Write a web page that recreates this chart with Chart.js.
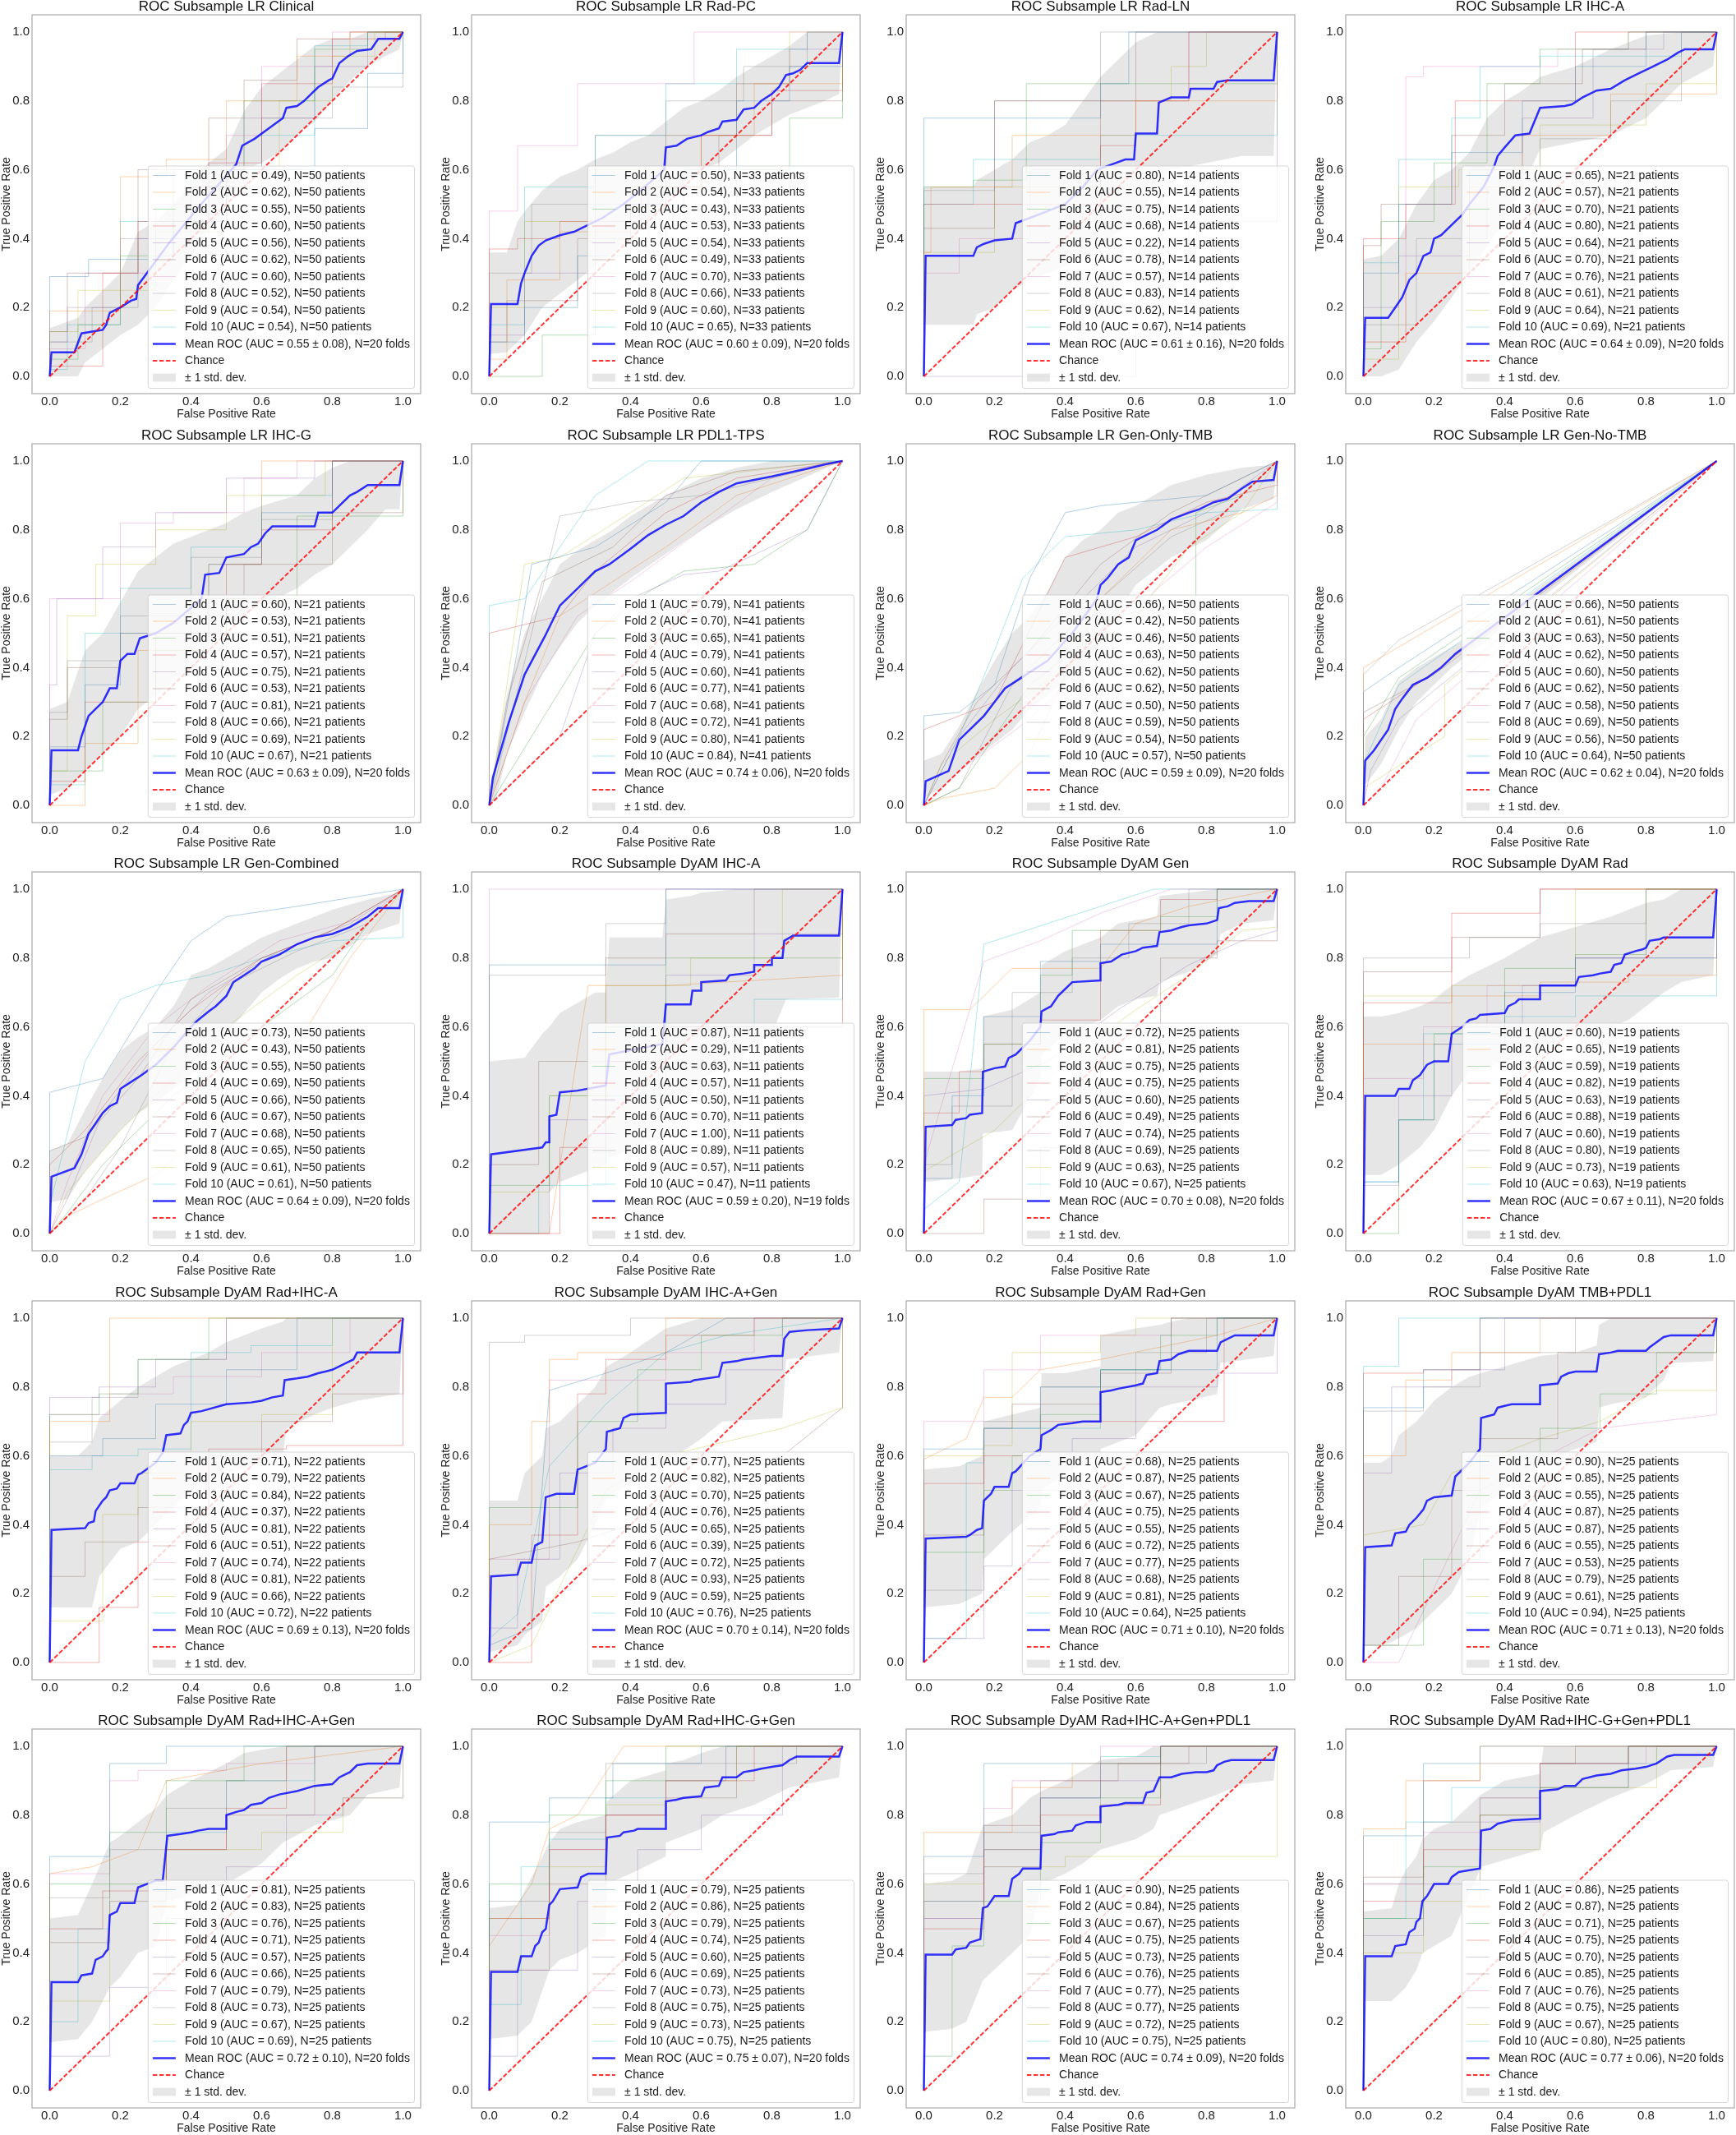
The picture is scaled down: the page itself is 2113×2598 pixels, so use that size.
<!DOCTYPE html>
<html>
<head>
<meta charset="utf-8">
<script src="https://cdn.jsdelivr.net/npm/chart.js@4.4.1/dist/chart.umd.min.js"></script>
<style>
  html, body { margin: 0; padding: 0; background: #fff; }
  body { width: 2113px; height: 2598px; position: relative; overflow: hidden; }
  canvas { position: absolute; }
</style>
</head>
<body>
<script>
// ---- data ----
const TITLES = [
  'ROC Subsample LR Clinical', 'ROC Subsample LR Rad-PC', 'ROC Subsample LR Rad-LN', 'ROC Subsample LR IHC-A',
  'ROC Subsample LR IHC-G', 'ROC Subsample LR PDL1-TPS', 'ROC Subsample LR Gen-Only-TMB', 'ROC Subsample LR Gen-No-TMB',
  'ROC Subsample LR Gen-Combined', 'ROC Subsample DyAM IHC-A', 'ROC Subsample DyAM Gen', 'ROC Subsample DyAM Rad',
  'ROC Subsample DyAM Rad+IHC-A', 'ROC Subsample DyAM IHC-A+Gen', 'ROC Subsample DyAM Rad+Gen', 'ROC Subsample DyAM TMB+PDL1',
  'ROC Subsample DyAM Rad+IHC-A+Gen', 'ROC Subsample DyAM Rad+IHC-G+Gen', 'ROC Subsample DyAM Rad+IHC-A+Gen+PDL1', 'ROC Subsample DyAM Rad+IHC-G+Gen+PDL1'
];
const N_PATIENTS = [50, 33, 14, 21, 21, 41, 50, 50, 50, 11, 25, 19, 22, 25, 25, 25, 25, 25, 25, 25];
const N_FOLDS = [20, 20, 20, 20, 20, 20, 20, 20, 20, 19, 20, 20, 20, 20, 20, 20, 20, 20, 20, 20];
const MEAN_AUC = [0.55, 0.60, 0.61, 0.64, 0.63, 0.74, 0.59, 0.62, 0.64, 0.59, 0.70, 0.67, 0.69, 0.70, 0.71, 0.71, 0.72, 0.75, 0.74, 0.77];
const MEAN_SD = [0.08, 0.09, 0.16, 0.09, 0.09, 0.06, 0.09, 0.04, 0.09, 0.20, 0.08, 0.11, 0.13, 0.14, 0.10, 0.13, 0.10, 0.07, 0.09, 0.06];
const FOLD_AUC = [
  [0.49, 0.62, 0.55, 0.60, 0.56, 0.62, 0.60, 0.52, 0.54, 0.54],
  [0.50, 0.54, 0.43, 0.53, 0.54, 0.49, 0.70, 0.66, 0.60, 0.65],
  [0.80, 0.55, 0.75, 0.68, 0.22, 0.78, 0.57, 0.83, 0.62, 0.67],
  [0.65, 0.57, 0.70, 0.80, 0.64, 0.70, 0.76, 0.61, 0.64, 0.69],
  [0.60, 0.53, 0.51, 0.57, 0.75, 0.53, 0.81, 0.66, 0.69, 0.67],
  [0.79, 0.70, 0.65, 0.79, 0.60, 0.77, 0.68, 0.72, 0.80, 0.84],
  [0.66, 0.42, 0.46, 0.63, 0.62, 0.62, 0.50, 0.59, 0.54, 0.57],
  [0.66, 0.61, 0.63, 0.62, 0.60, 0.62, 0.58, 0.69, 0.56, 0.64],
  [0.73, 0.43, 0.55, 0.69, 0.66, 0.67, 0.68, 0.65, 0.61, 0.61],
  [0.87, 0.29, 0.63, 0.57, 0.50, 0.70, 1.00, 0.89, 0.57, 0.47],
  [0.72, 0.81, 0.75, 0.75, 0.60, 0.49, 0.74, 0.69, 0.63, 0.67],
  [0.60, 0.65, 0.59, 0.82, 0.63, 0.88, 0.60, 0.80, 0.73, 0.63],
  [0.71, 0.79, 0.84, 0.37, 0.81, 0.51, 0.74, 0.81, 0.66, 0.72],
  [0.77, 0.82, 0.70, 0.76, 0.65, 0.39, 0.72, 0.93, 0.59, 0.76],
  [0.68, 0.87, 0.67, 0.75, 0.55, 0.72, 0.77, 0.68, 0.81, 0.64],
  [0.90, 0.85, 0.55, 0.87, 0.87, 0.55, 0.53, 0.79, 0.61, 0.94],
  [0.81, 0.83, 0.76, 0.71, 0.57, 0.66, 0.79, 0.73, 0.67, 0.69],
  [0.79, 0.86, 0.79, 0.74, 0.60, 0.69, 0.73, 0.75, 0.73, 0.75],
  [0.90, 0.84, 0.67, 0.75, 0.73, 0.76, 0.77, 0.77, 0.72, 0.75],
  [0.86, 0.87, 0.71, 0.75, 0.70, 0.85, 0.76, 0.75, 0.67, 0.80]
];

// mean ROC per panel: flat x,y pairs
const MEAN_ROC = [
  [0,0, 0.005,0.07, 0.07,0.07, 0.09,0.125, 0.12,0.13, 0.15,0.135, 0.16,0.15, 0.17,0.185, 0.2,0.2, 0.23,0.22, 0.245,0.225, 0.25,0.265, 0.34,0.39, 0.42,0.49, 0.528,0.616, 0.545,0.67, 0.58,0.69, 0.62,0.72, 0.64,0.735, 0.66,0.75, 0.67,0.78, 0.7,0.785, 0.72,0.8, 0.74,0.82, 0.76,0.84, 0.79,0.86, 0.8,0.865, 0.82,0.91, 0.845,0.93, 0.87,0.945, 0.91,0.95, 0.93,0.98, 0.99,0.98, 1,1],
  [0,0, 0.005,0.21, 0.08,0.21, 0.09,0.27, 0.1,0.3, 0.12,0.35, 0.14,0.38, 0.16,0.395, 0.2,0.41, 0.24,0.42, 0.26,0.43, 0.32,0.46, 0.38,0.5, 0.44,0.55, 0.495,0.6, 0.5,0.665, 0.53,0.67, 0.56,0.69, 0.6,0.7, 0.62,0.71, 0.65,0.72, 0.66,0.74, 0.7,0.745, 0.72,0.775, 0.75,0.78, 0.77,0.8, 0.8,0.82, 0.82,0.84, 0.84,0.875, 0.86,0.88, 0.88,0.89, 0.9,0.91, 0.99,0.91, 1,1],
  [0,0, 0.005,0.35, 0.14,0.35, 0.15,0.375, 0.17,0.385, 0.2,0.395, 0.25,0.4, 0.26,0.445, 0.3,0.46, 0.35,0.48, 0.4,0.5, 0.45,0.55, 0.49,0.6, 0.53,0.615, 0.57,0.63, 0.595,0.63, 0.6,0.705, 0.66,0.705, 0.665,0.795, 0.7,0.81, 0.75,0.81, 0.755,0.835, 0.82,0.835, 0.83,0.855, 0.86,0.86, 0.99,0.86, 1,1],
  [0,0, 0.005,0.17, 0.07,0.17, 0.09,0.2, 0.11,0.23, 0.13,0.28, 0.15,0.3, 0.17,0.35, 0.19,0.36, 0.2,0.4, 0.22,0.41, 0.25,0.44, 0.28,0.47, 0.3,0.5, 0.34,0.55, 0.37,0.61, 0.38,0.64, 0.4,0.665, 0.43,0.7, 0.47,0.705, 0.5,0.78, 0.57,0.785, 0.59,0.79, 0.62,0.81, 0.66,0.83, 0.7,0.835, 0.74,0.86, 0.78,0.88, 0.82,0.9, 0.86,0.92, 0.89,0.94, 0.91,0.95, 0.99,0.95, 1,1],
  [0,0, 0.005,0.16, 0.08,0.16, 0.09,0.2, 0.11,0.26, 0.13,0.28, 0.15,0.3, 0.17,0.34, 0.19,0.34, 0.2,0.42, 0.22,0.44, 0.24,0.44, 0.255,0.485, 0.3,0.5, 0.35,0.53, 0.43,0.6, 0.44,0.67, 0.48,0.675, 0.5,0.72, 0.55,0.73, 0.57,0.75, 0.59,0.76, 0.61,0.79, 0.63,0.81, 0.75,0.81, 0.76,0.85, 0.8,0.85, 0.82,0.87, 0.85,0.9, 0.87,0.91, 0.9,0.93, 0.99,0.93, 1,1],
  [0,0, 0.01,0.08, 0.055,0.24, 0.1,0.38, 0.157,0.49, 0.2,0.58, 0.26,0.64, 0.3,0.68, 0.34,0.7, 0.4,0.745, 0.45,0.785, 0.5,0.815, 0.55,0.84, 0.6,0.88, 0.65,0.91, 0.7,0.935, 0.8,0.955, 0.9,0.978, 0.95,0.99, 1,1],
  [0,0, 0.005,0.07, 0.07,0.1, 0.1,0.19, 0.13,0.22, 0.17,0.26, 0.2,0.3, 0.23,0.34, 0.26,0.36, 0.35,0.42, 0.42,0.5, 0.49,0.6, 0.5,0.64, 0.52,0.66, 0.55,0.7, 0.58,0.72, 0.6,0.77, 0.62,0.78, 0.66,0.8, 0.7,0.83, 0.75,0.85, 0.78,0.86, 0.82,0.88, 0.86,0.89, 0.9,0.92, 0.93,0.94, 0.99,0.945, 1,1],
  [0,0, 0.005,0.13, 0.03,0.16, 0.05,0.19, 0.07,0.22, 0.09,0.28, 0.11,0.31, 0.14,0.35, 0.18,0.37, 0.22,0.4, 0.26,0.44, 0.3,0.47, 1,1],
  [0,0, 0.005,0.165, 0.07,0.19, 0.09,0.23, 0.11,0.29, 0.13,0.32, 0.15,0.35, 0.17,0.37, 0.19,0.38, 0.2,0.42, 0.23,0.44, 0.26,0.46, 0.3,0.49, 0.35,0.54, 0.4,0.6, 0.42,0.62, 0.45,0.645, 0.47,0.66, 0.5,0.69, 0.52,0.73, 0.55,0.75, 0.58,0.77, 0.6,0.79, 0.65,0.81, 0.7,0.84, 0.75,0.86, 0.8,0.87, 0.85,0.89, 0.9,0.92, 0.93,0.945, 0.99,0.945, 1,1],
  [0,0, 0.005,0.23, 0.15,0.25, 0.16,0.265, 0.17,0.265, 0.17,0.34, 0.19,0.345, 0.2,0.41, 0.25,0.415, 0.33,0.43, 0.34,0.52, 0.49,0.55, 0.5,0.665, 0.57,0.665, 0.575,0.705, 0.6,0.705, 0.6,0.73, 0.67,0.735, 0.68,0.75, 0.72,0.755, 0.75,0.76, 0.75,0.78, 0.8,0.78, 0.8,0.8, 0.83,0.8, 0.835,0.85, 0.86,0.865, 0.99,0.865, 1,1],
  [0,0, 0.005,0.31, 0.08,0.315, 0.09,0.33, 0.12,0.335, 0.13,0.345, 0.165,0.35, 0.167,0.47, 0.2,0.48, 0.23,0.485, 0.24,0.51, 0.26,0.52, 0.3,0.56, 0.33,0.6, 0.333,0.645, 0.36,0.66, 0.38,0.69, 0.4,0.71, 0.42,0.73, 0.5,0.735, 0.5,0.785, 0.53,0.79, 0.56,0.81, 0.6,0.82, 0.62,0.83, 0.66,0.835, 0.667,0.875, 0.7,0.88, 0.73,0.89, 0.75,0.895, 0.8,0.9, 0.83,0.91, 0.835,0.945, 0.86,0.95, 0.88,0.96, 0.92,0.965, 0.99,0.965, 1,1],
  [0,0, 0.005,0.4, 0.09,0.4, 0.1,0.42, 0.13,0.42, 0.14,0.445, 0.16,0.46, 0.18,0.49, 0.2,0.5, 0.24,0.5, 0.25,0.58, 0.28,0.6, 0.3,0.62, 0.32,0.625, 0.33,0.635, 0.4,0.64, 0.41,0.66, 0.43,0.67, 0.44,0.68, 0.5,0.68, 0.5,0.72, 0.6,0.72, 0.61,0.745, 0.65,0.75, 0.67,0.755, 0.7,0.76, 0.71,0.78, 0.73,0.785, 0.74,0.81, 0.77,0.82, 0.79,0.825, 0.8,0.83, 0.81,0.85, 0.84,0.855, 0.85,0.86, 0.99,0.86, 1,1],
  [0,0, 0.005,0.385, 0.1,0.39, 0.11,0.405, 0.125,0.41, 0.13,0.44, 0.15,0.47, 0.16,0.48, 0.17,0.5, 0.19,0.505, 0.2,0.52, 0.24,0.52, 0.25,0.545, 0.26,0.55, 0.3,0.58, 0.32,0.61, 0.33,0.66, 0.37,0.665, 0.38,0.69, 0.39,0.7, 0.4,0.725, 0.43,0.73, 0.5,0.75, 0.57,0.755, 0.6,0.76, 0.63,0.77, 0.66,0.775, 0.665,0.82, 0.7,0.825, 0.73,0.83, 0.76,0.84, 0.78,0.845, 0.8,0.85, 0.82,0.86, 0.84,0.87, 0.86,0.88, 0.87,0.9, 0.99,0.9, 1,1],
  [0,0, 0.005,0.25, 0.08,0.255, 0.09,0.29, 0.12,0.29, 0.13,0.34, 0.15,0.35, 0.16,0.48, 0.19,0.49, 0.24,0.49, 0.25,0.56, 0.3,0.58, 0.33,0.62, 0.333,0.67, 0.37,0.68, 0.38,0.71, 0.4,0.72, 0.5,0.725, 0.5,0.81, 0.57,0.815, 0.58,0.82, 0.65,0.83, 0.66,0.87, 0.7,0.875, 0.72,0.88, 0.8,0.89, 0.83,0.89, 0.835,0.94, 0.85,0.96, 0.9,0.965, 0.99,0.97, 1,1],
  [0,0, 0.005,0.36, 0.12,0.365, 0.13,0.37, 0.15,0.385, 0.165,0.39, 0.17,0.47, 0.19,0.49, 0.2,0.51, 0.24,0.51, 0.25,0.55, 0.26,0.555, 0.3,0.6, 0.33,0.62, 0.333,0.66, 0.36,0.675, 0.38,0.69, 0.42,0.695, 0.45,0.7, 0.5,0.7, 0.5,0.785, 0.53,0.79, 0.55,0.795, 0.6,0.805, 0.62,0.81, 0.63,0.835, 0.66,0.84, 0.667,0.875, 0.7,0.88, 0.72,0.895, 0.75,0.905, 0.83,0.905, 0.84,0.93, 0.86,0.94, 0.88,0.95, 0.99,0.95, 1,1],
  [0,0, 0.005,0.335, 0.08,0.34, 0.09,0.375, 0.12,0.38, 0.13,0.4, 0.15,0.42, 0.17,0.445, 0.18,0.47, 0.2,0.48, 0.25,0.485, 0.26,0.54, 0.3,0.58, 0.33,0.62, 0.333,0.71, 0.37,0.72, 0.38,0.74, 0.4,0.745, 0.42,0.75, 0.5,0.75, 0.5,0.805, 0.55,0.81, 0.56,0.83, 0.58,0.84, 0.6,0.845, 0.66,0.845, 0.667,0.895, 0.7,0.9, 0.72,0.905, 0.8,0.905, 0.81,0.915, 0.83,0.93, 0.85,0.945, 0.87,0.95, 0.99,0.95, 1,1],
  [0,0, 0.005,0.315, 0.08,0.315, 0.09,0.335, 0.12,0.34, 0.13,0.38, 0.15,0.39, 0.16,0.405, 0.165,0.41, 0.17,0.51, 0.19,0.52, 0.2,0.545, 0.24,0.545, 0.25,0.59, 0.3,0.61, 0.32,0.61, 0.333,0.74, 0.37,0.745, 0.4,0.75, 0.42,0.755, 0.45,0.76, 0.5,0.76, 0.5,0.8, 0.53,0.81, 0.55,0.815, 0.57,0.83, 0.6,0.835, 0.62,0.85, 0.65,0.86, 0.7,0.87, 0.75,0.885, 0.8,0.89, 0.82,0.91, 0.85,0.925, 0.87,0.945, 0.9,0.95, 0.99,0.95, 1,1],
  [0,0, 0.005,0.345, 0.08,0.345, 0.09,0.39, 0.12,0.39, 0.13,0.42, 0.14,0.43, 0.15,0.46, 0.16,0.47, 0.17,0.54, 0.18,0.55, 0.2,0.585, 0.25,0.59, 0.26,0.62, 0.28,0.63, 0.33,0.63, 0.333,0.735, 0.37,0.74, 0.38,0.75, 0.41,0.755, 0.42,0.76, 0.5,0.76, 0.5,0.84, 0.53,0.845, 0.55,0.85, 0.6,0.855, 0.61,0.88, 0.65,0.885, 0.66,0.91, 0.7,0.91, 0.72,0.925, 0.75,0.93, 0.77,0.935, 0.8,0.94, 0.83,0.945, 0.85,0.96, 0.87,0.97, 0.99,0.97, 1,1],
  [0,0, 0.005,0.395, 0.08,0.395, 0.09,0.41, 0.12,0.415, 0.13,0.43, 0.16,0.44, 0.167,0.53, 0.18,0.535, 0.2,0.565, 0.24,0.565, 0.25,0.615, 0.27,0.63, 0.28,0.645, 0.33,0.645, 0.333,0.74, 0.37,0.745, 0.38,0.75, 0.42,0.755, 0.43,0.77, 0.46,0.78, 0.5,0.78, 0.5,0.825, 0.55,0.83, 0.57,0.835, 0.62,0.835, 0.63,0.865, 0.65,0.87, 0.667,0.91, 0.7,0.91, 0.73,0.92, 0.77,0.925, 0.8,0.925, 0.82,0.93, 0.83,0.945, 0.85,0.955, 0.87,0.96, 0.99,0.96, 1,1],
  [0,0, 0.005,0.39, 0.08,0.39, 0.09,0.42, 0.12,0.425, 0.13,0.46, 0.145,0.47, 0.15,0.49, 0.16,0.5, 0.167,0.55, 0.18,0.565, 0.2,0.6, 0.24,0.6, 0.25,0.62, 0.27,0.635, 0.3,0.64, 0.33,0.645, 0.333,0.755, 0.36,0.76, 0.38,0.775, 0.4,0.78, 0.42,0.785, 0.5,0.79, 0.5,0.87, 0.55,0.875, 0.57,0.885, 0.6,0.885, 0.62,0.905, 0.66,0.915, 0.7,0.92, 0.73,0.93, 0.77,0.935, 0.8,0.94, 0.83,0.95, 0.86,0.97, 0.88,0.975, 0.99,0.975, 1,1]
];

// ±1 std band per panel: flat x, upper, lower triples
const STD_BAND = [
  [0,0.14,0, 0.08,0.17,0, 0.1,0.2,0.04, 0.15,0.25,0.08, 0.2,0.3,0.12, 0.25,0.42,0.15, 0.3,0.45,0.2, 0.35,0.5,0.28, 0.4,0.56,0.35, 0.45,0.62,0.42, 0.5,0.66,0.5, 0.55,0.77,0.6, 0.6,0.84,0.62, 0.65,0.88,0.65, 0.7,0.92,0.7, 0.75,0.96,0.74, 0.8,0.98,0.8, 0.85,0.98,0.86, 0.9,1,0.9, 0.95,1,0.93, 0.99,1,0.95, 1,1,1],
  [0,0.36,0.065, 0.05,0.36,0.07, 0.08,0.45,0.1, 0.1,0.48,0.12, 0.15,0.54,0.2, 0.2,0.58,0.24, 0.25,0.6,0.28, 0.3,0.63,0.32, 0.35,0.65,0.36, 0.4,0.68,0.4, 0.45,0.7,0.45, 0.5,0.74,0.5, 0.55,0.78,0.56, 0.6,0.8,0.6, 0.65,0.83,0.62, 0.7,0.87,0.66, 0.75,0.9,0.7, 0.8,0.93,0.73, 0.85,0.96,0.76, 0.9,1,0.78, 0.95,1,0.8, 0.99,1,0.82, 1,1,1],
  [0,0.55,0.15, 0.14,0.55,0.15, 0.15,0.57,0.18, 0.2,0.6,0.2, 0.25,0.63,0.25, 0.3,0.68,0.28, 0.35,0.7,0.3, 0.4,0.73,0.32, 0.45,0.8,0.35, 0.5,0.87,0.38, 0.55,0.92,0.42, 0.6,0.97,0.45, 0.66,1,0.55, 0.7,1,0.6, 0.8,1,0.62, 0.9,1,0.64, 0.99,1,0.64, 1,1,1],
  [0,0.34,0, 0.05,0.35,0, 0.1,0.4,0.02, 0.15,0.5,0.1, 0.2,0.57,0.16, 0.25,0.6,0.23, 0.3,0.65,0.3, 0.35,0.75,0.38, 0.4,0.8,0.45, 0.45,0.83,0.55, 0.5,0.87,0.66, 0.6,0.9,0.68, 0.7,0.95,0.7, 0.8,0.99,0.75, 0.9,1,0.85, 0.99,1,0.9, 1,1,1],
  [0,0.28,0.03, 0.05,0.3,0.05, 0.1,0.45,0.1, 0.15,0.5,0.15, 0.2,0.59,0.2, 0.25,0.68,0.28, 0.3,0.72,0.32, 0.35,0.76,0.36, 0.4,0.78,0.4, 0.45,0.8,0.47, 0.5,0.82,0.52, 0.55,0.85,0.55, 0.6,0.87,0.58, 0.7,0.9,0.63, 0.75,0.95,0.67, 0.8,0.98,0.7, 0.85,1,0.75, 0.9,1,0.8, 0.95,1,0.86, 0.99,1,0.86, 1,1,1],
  [0,0,0, 0.02,0.15,0.02, 0.05,0.32,0.15, 0.1,0.5,0.27, 0.15,0.6,0.38, 0.2,0.7,0.46, 0.25,0.74,0.53, 0.3,0.77,0.58, 0.35,0.8,0.62, 0.4,0.84,0.66, 0.5,0.9,0.73, 0.6,0.95,0.8, 0.7,0.98,0.86, 0.8,1,0.91, 0.9,1,0.955, 1,1,1],
  [0,0.13,0.02, 0.05,0.15,0.05, 0.1,0.23,0.1, 0.15,0.33,0.14, 0.2,0.42,0.18, 0.25,0.5,0.22, 0.3,0.55,0.28, 0.35,0.62,0.32, 0.4,0.72,0.36, 0.45,0.77,0.4, 0.5,0.8,0.47, 0.55,0.85,0.56, 0.6,0.87,0.64, 0.7,0.93,0.72, 0.8,0.96,0.77, 0.9,0.98,0.86, 0.99,0.99,0.89, 1,1,1],
  [0,0,0, 0.005,0.2,0.06, 0.05,0.25,0.12, 0.1,0.36,0.22, 0.15,0.4,0.3, 0.2,0.43,0.35, 0.25,0.46,0.4, 0.3,0.49,0.44, 1,1,1],
  [0,0.24,0.09, 0.05,0.26,0.1, 0.1,0.36,0.18, 0.15,0.45,0.24, 0.2,0.53,0.3, 0.25,0.57,0.35, 0.3,0.6,0.38, 0.35,0.66,0.42, 0.4,0.75,0.46, 0.45,0.77,0.52, 0.5,0.8,0.58, 0.55,0.83,0.64, 0.6,0.86,0.7, 0.65,0.88,0.74, 0.7,0.9,0.77, 0.75,0.92,0.79, 0.8,0.94,0.8, 0.9,0.97,0.87, 0.99,0.99,0.9, 1,1,1],
  [0,0.5,0, 0.1,0.51,0, 0.15,0.58,0, 0.17,0.6,0, 0.17,0.6,0.12, 0.2,0.64,0.15, 0.25,0.67,0.17, 0.3,0.7,0.19, 0.33,0.7,0.2, 0.34,0.86,0.22, 0.49,0.86,0.28, 0.5,0.97,0.36, 0.57,0.98,0.4, 0.6,0.99,0.45, 0.7,1,0.5, 0.75,1,0.55, 0.8,1,0.58, 0.84,1,0.68, 0.99,1,0.685, 1,1,1],
  [0,0.47,0.15, 0.1,0.47,0.16, 0.165,0.48,0.17, 0.167,0.63,0.29, 0.25,0.65,0.3, 0.33,0.7,0.45, 0.333,0.78,0.52, 0.4,0.82,0.58, 0.5,0.86,0.62, 0.55,0.9,0.66, 0.6,0.91,0.68, 0.66,0.92,0.69, 0.667,0.98,0.73, 0.75,0.99,0.76, 0.83,1,0.81, 0.84,1,0.87, 0.9,1,0.9, 0.99,1,0.91, 1,1,1],
  [0,0.63,0.17, 0.05,0.63,0.17, 0.1,0.64,0.2, 0.16,0.66,0.25, 0.2,0.68,0.3, 0.25,0.72,0.4, 0.3,0.75,0.47, 0.4,0.8,0.5, 0.5,0.86,0.54, 0.6,0.89,0.58, 0.7,0.92,0.6, 0.75,0.94,0.62, 0.8,0.96,0.66, 0.85,0.97,0.7, 0.9,1,0.73, 0.99,1,0.75, 1,1,1],
  [0,0.6,0.16, 0.08,0.6,0.16, 0.12,0.64,0.16, 0.14,0.71,0.25, 0.2,0.76,0.33, 0.25,0.8,0.35, 0.3,0.83,0.4, 0.35,0.86,0.45, 0.4,0.88,0.5, 0.45,0.9,0.53, 0.5,0.93,0.55, 0.6,0.97,0.58, 0.66,0.99,0.6, 0.67,1,0.68, 0.75,1,0.72, 0.8,1,0.74, 0.87,1,0.76, 0.99,1,0.78, 1,1,1],
  [0,0.47,0.03, 0.08,0.47,0.05, 0.1,0.55,0.08, 0.15,0.6,0.12, 0.16,0.68,0.22, 0.2,0.7,0.25, 0.25,0.75,0.3, 0.3,0.8,0.4, 0.333,0.86,0.48, 0.4,0.9,0.52, 0.5,0.97,0.58, 0.6,1,0.65, 0.66,1,0.7, 0.83,1,0.71, 0.84,1,0.88, 0.99,1,0.9, 1,1,1],
  [0,0.56,0.16, 0.1,0.57,0.17, 0.165,0.6,0.2, 0.17,0.7,0.3, 0.25,0.72,0.38, 0.33,0.74,0.45, 0.333,0.84,0.5, 0.4,0.84,0.55, 0.5,0.86,0.6, 0.5,0.95,0.62, 0.6,0.97,0.66, 0.667,0.98,0.74, 0.7,0.99,0.75, 0.75,1,0.76, 0.83,1,0.78, 0.84,1,0.87, 0.99,1,0.89, 1,1,1],
  [0,0.58,0.05, 0.05,0.58,0.05, 0.08,0.6,0.06, 0.1,0.66,0.07, 0.15,0.7,0.1, 0.2,0.76,0.15, 0.25,0.8,0.2, 0.3,0.83,0.3, 0.333,0.84,0.45, 0.4,0.86,0.5, 0.5,0.89,0.58, 0.6,0.9,0.62, 0.66,0.92,0.64, 0.667,0.98,0.74, 0.7,1,0.75, 0.8,1,0.77, 0.85,1,0.82, 0.87,1,0.87, 0.99,1,0.875, 1,1,1],
  [0,0.5,0.14, 0.08,0.51,0.15, 0.12,0.6,0.2, 0.17,0.72,0.3, 0.2,0.74,0.33, 0.25,0.78,0.4, 0.3,0.82,0.42, 0.333,0.86,0.55, 0.4,0.9,0.57, 0.5,0.95,0.6, 0.55,0.98,0.63, 0.6,0.99,0.66, 0.66,1,0.72, 0.75,1,0.77, 0.85,1,0.8, 0.9,1,0.86, 0.99,1,0.88, 1,1,1],
  [0,0.53,0.15, 0.08,0.54,0.16, 0.12,0.62,0.2, 0.17,0.72,0.35, 0.2,0.76,0.38, 0.25,0.78,0.4, 0.33,0.8,0.45, 0.333,0.84,0.6, 0.4,0.9,0.63, 0.5,0.93,0.68, 0.5,0.95,0.72, 0.55,0.96,0.74, 0.6,0.98,0.76, 0.66,1,0.8, 0.75,1,0.83, 0.85,1,0.88, 0.99,1,0.91, 1,1,1],
  [0,0.6,0.17, 0.08,0.61,0.18, 0.12,0.63,0.2, 0.167,0.77,0.32, 0.25,0.8,0.4, 0.3,0.85,0.45, 0.333,0.87,0.6, 0.4,0.9,0.63, 0.45,0.93,0.66, 0.5,0.96,0.7, 0.6,0.97,0.73, 0.65,1,0.76, 0.667,1,0.8, 0.75,1,0.83, 0.83,1,0.86, 0.9,1,0.89, 0.99,1,0.9, 1,1,1],
  [0,0.52,0.26, 0.08,0.53,0.26, 0.1,0.6,0.28, 0.12,0.64,0.3, 0.15,0.68,0.35, 0.167,0.73,0.4, 0.2,0.76,0.42, 0.25,0.78,0.45, 0.333,0.86,0.65, 0.4,0.9,0.67, 0.5,0.92,0.7, 0.51,1,0.75, 0.6,1,0.8, 0.7,1,0.85, 0.8,1,0.89, 0.87,1,0.93, 0.99,1,0.94, 1,1,1]
];

// fold curves: flat corner points after (0,0); 's' = staircase, 'd' = straight segments
const FOLD_SHAPE = [
  'ssssssssss', 'ssssssssss', 'ssssssssss', 'ssssssssss',
  'ssssssssss', 'dddddddddd', 'dddddddddd', 'dddddddddd',
  'dddddddddd', 'sdssssssss', 'sdssdsdsdd', 'ssssssssss',
  'ssssssssss', 'dssssdssdd', 'sdssssssss', 'ssssssdsds',
  'sdssssssss', 'sdssssssss', 'ssssssssss', 'ssssssssss'
];
const FOLD_CURVES = [
  [
    [0.11,0.29, 0.35,0.34, 0.5,0.45, 0.75,0.6, 0.9,0.72, 1,0.88, 1,1],
    [0.2,0.19, 0.33,0.58, 0.5,0.63, 0.7,0.8, 0.85,0.93, 1,1],
    [0.08,0.05, 0.2,0.15, 0.35,0.35, 0.55,0.6, 0.75,0.8, 0.9,0.95, 1,1],
    [0.15,0.03, 0.25,0.3, 0.45,0.45, 0.6,0.62, 0.8,0.85, 0.95,0.98, 1,1],
    [0.05,0.1, 0.2,0.2, 0.4,0.4, 0.55,0.55, 0.75,0.75, 0.9,0.9, 1,1],
    [0.05,0.13, 0.25,0.3, 0.45,0.6, 0.55,0.75, 0.7,0.86, 0.85,0.98, 1,1],
    [0.1,0.08, 0.3,0.3, 0.5,0.5, 0.6,0.7, 0.8,0.9, 0.95,1, 1,1],
    [0.12,0.1, 0.25,0.2, 0.45,0.4, 0.6,0.55, 0.8,0.75, 0.95,0.84, 1,0.84, 1,1],
    [0.08,0.13, 0.3,0.25, 0.5,0.42, 0.65,0.6, 0.8,0.8, 0.92,0.93, 1,1],
    [0.05,0.02, 0.2,0.15, 0.4,0.45, 0.6,0.6, 0.75,0.7, 0.9,0.96, 1,1]
  ],
  [
    [0.1,0.1, 0.25,0.2, 0.4,0.35, 0.55,0.5, 0.7,0.6, 0.85,0.8, 1,0.9, 1,1],
    [0.05,0.05, 0.2,0.28, 0.4,0.42, 0.6,0.55, 0.75,0.7, 0.9,0.85, 1,0.85, 1,1],
    [0.15,0, 0.3,0.12, 0.5,0.3, 0.7,0.45, 0.85,0.6, 1,0.75, 1,1],
    [0.08,0.37, 0.2,0.4, 0.43,0.45, 0.6,0.55, 0.8,0.7, 1,0.83, 1,1],
    [0.1,0.12, 0.3,0.3, 0.5,0.5, 0.7,0.7, 0.85,0.85, 1,0.95, 1,1],
    [0.05,0.1, 0.25,0.22, 0.45,0.4, 0.65,0.55, 0.8,0.7, 1,0.8, 1,1],
    [0.08,0.48, 0.25,0.67, 0.58,0.85, 1,1],
    [0.12,0.3, 0.3,0.5, 0.5,0.7, 0.72,0.8, 0.9,0.9, 1,1],
    [0.1,0.2, 0.3,0.45, 0.5,0.6, 0.7,0.7, 0.85,0.85, 1,1],
    [0.1,0.15, 0.3,0.55, 0.5,0.7, 0.7,0.85, 0.9,0.95, 1,1]
  ],
  [
    [0.5,0.75, 0.58,0.85, 1,1],
    [0.02,0.36, 0.25,0.55, 0.6,0.7, 1,0.8, 1,1],
    [0.14,0.55, 0.29,0.57, 0.5,0.85, 1,0.85, 1,1],
    [0.5,0.5, 0.6,0.67, 0.75,0.8, 1,1],
    [0.6,0, 0.75,0.3, 1,0.45, 1,1],
    [0.2,0.43, 0.25,0.8, 0.6,0.8, 1,1],
    [0.1,0.3, 0.3,0.4, 0.5,0.6, 0.75,0.8, 1,1],
    [0.2,0.54, 0.5,0.8, 0.66,1, 1,1],
    [0.2,0.36, 0.5,0.55, 0.7,0.8, 0.8,0.9, 1,1],
    [0.14,0.5, 0.5,0.63, 0.86,0.7, 1,0.7, 1,1]
  ],
  [
    [0.1,0.3, 0.25,0.5, 0.45,0.65, 0.6,0.8, 0.8,0.9, 1,1],
    [0.12,0.1, 0.3,0.3, 0.45,0.55, 0.7,0.7, 0.9,0.82, 1,0.82, 1,1],
    [0.05,0.08, 0.2,0.45, 0.35,0.62, 0.5,0.85, 0.75,0.95, 1,1],
    [0.12,0.4, 0.26,0.5, 0.37,0.8, 0.6,0.8, 0.75,1, 1,1],
    [0.1,0.2, 0.3,0.35, 0.45,0.6, 0.65,0.75, 0.85,0.95, 1,1],
    [0.05,0.38, 0.25,0.5, 0.4,0.7, 0.62,0.85, 0.8,0.95, 1,1],
    [0.12,0.1, 0.17,0.87, 0.55,0.9, 0.75,0.95, 1,1],
    [0.15,0.15, 0.35,0.4, 0.5,0.6, 0.7,0.69, 0.9,0.8, 1,1],
    [0.1,0.05, 0.27,0.55, 0.5,0.6, 0.8,0.73, 1,0.85, 1,1],
    [0.1,0.33, 0.25,0.63, 0.33,0.75, 0.5,0.9, 0.9,0.93, 1,1]
  ],
  [
    [0.1,0.17, 0.2,0.35, 0.45,0.5, 0.6,0.7, 0.8,0.85, 1,1],
    [0.1,0, 0.25,0.18, 0.45,0.45, 0.6,0.7, 0.6,1, 1,1],
    [0.15,0.1, 0.3,0.3, 0.5,0.45, 0.7,0.6, 0.9,0.84, 1,0.84, 1,1],
    [0.1,0.07, 0.3,0.3, 0.5,0.5, 0.6,0.7, 0.8,0.8, 1,1],
    [0.02,0.35, 0.15,0.6, 0.3,0.75, 0.5,0.85, 0.75,0.95, 1,1],
    [0.05,0.25, 0.2,0.4, 0.4,0.5, 0.55,0.6, 0.8,0.7, 1,0.85, 1,1],
    [0.2,0.6, 0.35,0.82, 0.55,0.85, 0.7,0.95, 1,1],
    [0.05,0.27, 0.2,0.42, 0.4,0.55, 0.6,0.72, 0.8,0.83, 1,1],
    [0.05,0.1, 0.13,0.55, 0.3,0.7, 0.5,0.8, 0.78,0.9, 1,1],
    [0.1,0.06, 0.2,0.5, 0.4,0.63, 0.6,0.75, 0.8,0.9, 1,1]
  ],
  [
    [0.08,0.45, 0.12,0.7, 0.3,0.75, 0.5,0.88, 0.6,1, 1,1],
    [0.1,0.3, 0.2,0.55, 0.35,0.65, 0.5,0.75, 0.7,0.9, 1,1],
    [0.15,0.25, 0.3,0.5, 0.45,0.62, 0.55,0.68, 0.75,0.7, 0.9,0.8, 1,1],
    [0,0.5, 0.2,0.55, 0.3,0.68, 0.5,0.85, 0.7,0.95, 1,1],
    [0.2,0.2, 0.3,0.5, 0.4,0.6, 0.55,0.67, 0.65,0.68, 0.9,0.8, 1,1],
    [0.05,0.3, 0.15,0.65, 0.35,0.75, 0.5,0.9, 0.7,0.97, 1,1],
    [0.1,0.3, 0.25,0.55, 0.4,0.65, 0.6,0.8, 0.8,0.95, 1,1],
    [0.12,0.5, 0.2,0.84, 0.4,0.88, 0.6,0.9, 1,1],
    [0.05,0.35, 0.1,0.7, 0.2,0.72, 0.4,0.85, 0.55,0.95, 1,1],
    [0,0.58, 0.1,0.6, 0.3,0.9, 0.45,1, 1,1]
  ],
  [
    [0,0.26, 0.1,0.27, 0.2,0.35, 0.3,0.66, 0.4,0.85, 0.5,0.87, 0.8,0.9, 1,1],
    [0.05,0.02, 0.2,0.05, 0.3,0.15, 0.5,0.6, 0.7,0.8, 0.9,0.85, 1,0.9, 1,1],
    [0.1,0.05, 0.3,0.35, 0.55,0.55, 0.77,0.6, 0.77,0.85, 0.9,0.9, 1,1],
    [0,0.22, 0.2,0.3, 0.4,0.72, 0.6,0.78, 0.8,0.88, 1,0.93, 1,1],
    [0.1,0.2, 0.25,0.4, 0.45,0.6, 0.6,0.75, 0.8,0.85, 1,1],
    [0.05,0.12, 0.15,0.3, 0.3,0.45, 0.5,0.7, 0.7,0.85, 0.9,0.95, 1,1],
    [0.1,0.1, 0.3,0.25, 0.5,0.45, 0.65,0.62, 0.8,0.75, 1,0.88, 1,1],
    [0.1,0.05, 0.25,0.35, 0.5,0.6, 0.7,0.78, 0.85,0.85, 1,1],
    [0.05,0.12, 0.2,0.25, 0.4,0.4, 0.6,0.55, 0.75,0.75, 0.9,0.85, 1,1],
    [0.1,0.2, 0.2,0.45, 0.28,0.66, 0.4,0.78, 0.6,0.8, 0.8,0.85, 1,0.86, 1,1]
  ],
  [
    [0,0.33, 0.1,0.4, 1,1],
    [0,0.4, 0.25,0.55, 1,1],
    [0,0.2, 0.1,0.37, 1,1],
    [0,0.25, 0.15,0.35, 1,1],
    [0.02,0.1, 0.1,0.25, 1,1],
    [0,0.27, 0.2,0.38, 1,1],
    [0.05,0.05, 0.15,0.25, 1,1],
    [0,0.38, 0.1,0.48, 1,1],
    [0,0.05, 0.23,0.2, 0.23,0.35, 1,1],
    [0,0.12, 0.1,0.35, 1,1]
  ],
  [
    [0,0.41, 0.15,0.45, 0.3,0.7, 0.4,0.85, 0.5,0.92, 0.7,0.95, 1,1],
    [0.05,0.05, 0.15,0.1, 0.3,0.17, 0.5,0.35, 0.7,0.55, 0.85,0.8, 1,1],
    [0.05,0.06, 0.15,0.2, 0.35,0.4, 0.6,0.6, 0.8,0.75, 0.9,0.9, 1,1],
    [0,0.2, 0.1,0.3, 0.25,0.5, 0.4,0.65, 0.6,0.8, 0.8,0.88, 1,1],
    [0.05,0.1, 0.15,0.35, 0.3,0.55, 0.45,0.7, 0.65,0.82, 0.85,0.9, 1,1],
    [0,0.24, 0.1,0.28, 0.25,0.45, 0.4,0.68, 0.6,0.8, 0.8,0.88, 1,1],
    [0.05,0.15, 0.15,0.4, 0.3,0.6, 0.45,0.72, 0.65,0.85, 0.9,0.92, 1,1],
    [0.1,0.1, 0.2,0.25, 0.35,0.55, 0.5,0.72, 0.7,0.82, 0.9,0.9, 1,1],
    [0.05,0.12, 0.2,0.3, 0.35,0.45, 0.5,0.6, 0.7,0.75, 0.85,0.85, 1,1],
    [0,0.08, 0.1,0.5, 0.2,0.68, 0.3,0.72, 0.45,0.75, 0.6,0.8, 0.8,0.85, 1,0.86, 1,1]
  ],
  [
    [0.5,0.78, 1,1],
    [0.17,0, 0.28,0.72, 0.5,0.72, 1,0.75, 1,1],
    [0.17,0.14, 0.33,0.4, 0.5,0.6, 0.75,0.8, 1,0.8, 1,1],
    [0.2,0, 0.33,0.25, 0.5,0.5, 0.86,0.6, 1,0.6, 1,1],
    [0.17,0, 0.33,0.33, 0.5,0.5, 0.75,0.75, 1,0.87, 1,1],
    [0.14,0.2, 0.33,0.5, 0.5,0.8, 0.75,0.87, 1,1],
    [1,1],
    [0.33,0.75, 0.5,0.9, 1,1],
    [0.17,0.12, 0.33,0.4, 0.57,0.72, 0.83,0.8, 1,1],
    [0.14,0, 0.33,0.14, 0.5,0.4, 0.75,0.6, 1,0.68, 1,1]
  ],
  [
    [0.08,0.16, 0.17,0.4, 0.33,0.63, 0.5,0.79, 0.67,0.84, 0.83,0.84, 1,1],
    [0,0.65, 0.13,0.65, 0.25,0.77, 0.5,0.77, 0.6,0.9, 0.75,0.95, 1,1],
    [0.17,0.45, 0.33,0.55, 0.42,0.75, 0.67,0.88, 0.83,0.92, 1,1],
    [0.1,0.35, 0.17,0.47, 0.33,0.55, 0.5,0.62, 0.67,0.88, 0.83,0.97, 1,1],
    [0,0.4, 0.17,0.42, 0.35,0.5, 0.55,0.65, 0.75,0.78, 0.9,0.85, 1,0.88, 1,1],
    [0.17,0, 0.33,0.1, 0.5,0.25, 0.67,0.48, 0.83,0.8, 1,0.85, 1,1],
    [0,0.2, 0.17,0.79, 0.33,0.85, 0.5,0.93, 0.7,1, 1,1],
    [0.08,0.2, 0.25,0.37, 0.42,0.7, 0.58,0.8, 0.75,0.9, 1,1],
    [0,0.18, 0.2,0.3, 0.4,0.5, 0.6,0.65, 0.75,0.75, 0.9,0.88, 1,0.89, 1,1],
    [0,0.07, 0.1,0.15, 0.17,0.84, 0.5,0.95, 0.65,1, 1,1]
  ],
  [
    [0.1,0.15, 0.2,0.33, 0.4,0.55, 0.6,0.7, 0.8,0.8, 1,0.8, 1,1],
    [0,0.47, 0.25,0.55, 0.5,0.69, 0.75,0.73, 1,0.75, 1,1],
    [0.1,0, 0.2,0.33, 0.4,0.58, 0.6,0.77, 0.8,0.81, 1,1],
    [0,0.53, 0.25,0.67, 0.5,0.93, 0.6,1, 1,1],
    [0.1,0.14, 0.25,0.4, 0.45,0.6, 0.6,0.72, 0.8,0.8, 1,0.8, 1,1],
    [0.25,0.76, 0.5,0.86, 0.55,1, 1,1],
    [0,0.09, 0.17,0.45, 0.35,0.6, 0.6,0.72, 0.8,0.8, 1,1],
    [0,0.73, 0.3,0.8, 0.5,0.86, 0.8,0.9, 1,1],
    [0,0.5, 0.25,0.69, 0.6,0.72, 0.7,1, 1,1],
    [0.1,0.15, 0.17,0.33, 0.4,0.58, 0.6,0.63, 0.8,0.69, 1,0.69, 1,1]
  ],
  [
    [0,0.59, 0.15,0.6, 0.3,0.65, 0.5,0.75, 0.7,0.85, 1,1],
    [0,0.62, 0.17,0.7, 0.33,1, 1,1],
    [0,0.64, 0.14,0.72, 0.25,0.78, 0.45,0.88, 0.6,1, 1,1],
    [0.14,0, 0.25,0.16, 0.45,0.35, 0.67,0.62, 1,0.63, 1,1],
    [0,0.5, 0.14,0.77, 0.3,0.8, 0.5,0.88, 0.7,1, 1,1],
    [0.1,0.25, 0.25,0.35, 0.45,0.45, 0.6,0.6, 0.8,0.7, 1,0.78, 1,1],
    [0,0.7, 0.17,0.72, 0.35,0.78, 0.6,0.83, 0.85,0.9, 1,1],
    [0,0.53, 0.12,0.64, 0.25,0.77, 0.5,0.88, 0.75,1, 1,1],
    [0.15,0.12, 0.25,0.43, 0.4,0.55, 0.6,0.7, 0.8,0.72, 1,1],
    [0.12,0.56, 0.25,0.6, 0.4,0.62, 0.57,0.9, 0.8,0.92, 1,1]
  ],
  [
    [0,0.05, 0.12,0.1, 0.17,0.79, 0.33,0.84, 0.5,0.9, 0.67,1, 1,1],
    [0.12,0.4, 0.17,0.7, 0.25,0.88, 0.5,0.9, 0.67,1, 1,1],
    [0,0.33, 0.25,0.45, 0.42,0.7, 0.6,0.85, 0.83,0.95, 1,1],
    [0.12,0, 0.25,0.37, 0.33,0.78, 0.5,0.88, 0.75,0.95, 1,1],
    [0.08,0.1, 0.2,0.3, 0.35,0.55, 0.5,0.68, 0.67,0.75, 0.83,0.85, 1,1],
    [0,0.3, 0.25,0.35, 0.4,0.4, 0.6,0.55, 0.83,0.6, 1,0.74, 1,1],
    [0.17,0.3, 0.5,0.82, 0.75,0.9, 1,1],
    [0,0.71, 0.1,0.93, 0.4,0.95, 0.5,1, 1,1],
    [0.12,0.05, 0.33,0.5, 0.5,0.6, 0.83,0.68, 1,0.74, 1,1],
    [0,0.07, 0.08,0.14, 0.17,0.57, 0.33,0.75, 0.5,0.9, 0.67,0.95, 1,1]
  ],
  [
    [0,0.58, 0.17,0.62, 0.33,0.68, 0.5,0.8, 0.83,0.85, 1,1],
    [0,0.59, 0.12,0.65, 0.17,0.77, 0.25,0.77, 0.33,0.85, 0.5,0.88, 0.83,0.95, 1,1],
    [0.17,0.32, 0.25,0.5, 0.33,0.6, 0.5,0.72, 0.67,0.85, 0.83,0.95, 1,1],
    [0,0.47, 0.17,0.52, 0.33,0.6, 0.58,0.7, 0.85,0.7, 0.87,1, 1,1],
    [0.17,0.07, 0.25,0.28, 0.42,0.5, 0.6,0.65, 0.83,0.8, 1,0.84, 1,1],
    [0,0.31, 0.17,0.37, 0.25,0.68, 0.5,0.75, 0.7,0.84, 1,1],
    [0,0.68, 0.17,0.7, 0.33,0.85, 0.7,0.95, 1,1],
    [0,0.1, 0.17,0.21, 0.33,0.7, 0.6,0.8, 0.8,0.9, 1,1],
    [0,0.12, 0.17,0.6, 0.25,0.63, 0.5,0.9, 0.6,0.95, 1,1],
    [0,0.07, 0.12,0.07, 0.17,0.58, 0.5,0.68, 0.7,0.85, 1,1]
  ],
  [
    [0.17,0.74, 0.33,0.85, 1,1],
    [0,0.41, 0.12,0.6, 0.25,0.82, 0.5,0.9, 1,1],
    [0.17,0.05, 0.33,0.3, 0.5,0.6, 0.67,0.68, 0.83,0.78, 1,0.9, 1,1],
    [0,0.63, 0.17,0.84, 0.33,0.85, 0.5,1, 1,1],
    [0.08,0.55, 0.25,0.8, 0.4,0.85, 0.5,1, 1,1],
    [0.1,0.05, 0.25,0.25, 0.33,0.5, 0.55,0.65, 0.67,0.9, 1,0.9, 1,1],
    [0.1,0, 0.17,0.15, 0.33,0.5, 0.67,0.68, 1,0.72, 1,1],
    [0,0.36, 0.17,0.73, 0.33,0.8, 0.6,0.9, 1,1],
    [0,0.37, 0.17,0.4, 0.25,0.55, 0.5,0.65, 0.67,0.7, 0.83,0.79, 1,0.79, 1,1],
    [0,0.85, 0.1,0.86, 0.25,1, 1,1]
  ],
  [
    [0,0.58, 0.17,0.68, 0.33,0.95, 0.6,1, 1,1],
    [0,0.63, 0.12,0.65, 0.25,0.7, 0.33,0.9, 0.6,0.95, 1,1],
    [0,0.47, 0.17,0.6, 0.33,0.75, 0.55,0.9, 0.75,1, 1,1],
    [0,0.37, 0.15,0.47, 0.33,0.58, 0.5,0.7, 0.67,0.82, 1,1],
    [0.17,0.1, 0.33,0.3, 0.5,0.5, 0.67,0.65, 0.83,0.8, 1,0.85, 1,1],
    [0,0.25, 0.17,0.43, 0.33,0.55, 0.5,0.7, 0.75,0.8, 1,1],
    [0,0.45, 0.17,0.63, 0.25,0.9, 0.5,0.93, 0.75,0.95, 1,1],
    [0,0.1, 0.17,0.56, 0.33,0.7, 0.5,0.82, 0.67,0.9, 1,1],
    [0,0.23, 0.17,0.26, 0.33,0.6, 0.6,0.7, 0.83,0.75, 1,0.85, 1,1],
    [0.08,0.2, 0.17,0.47, 0.33,0.6, 0.5,0.75, 0.75,0.9, 1,1]
  ],
  [
    [0.17,0.78, 0.35,0.85, 0.6,0.95, 1,1],
    [0,0.42, 0.12,0.6, 0.17,0.76, 0.25,0.8, 0.38,1, 1,1],
    [0,0.3, 0.17,0.6, 0.33,0.8, 0.5,0.9, 0.75,1, 1,1],
    [0,0.35, 0.17,0.5, 0.33,0.7, 0.5,0.8, 0.75,0.9, 1,1],
    [0.08,0.1, 0.25,0.35, 0.42,0.55, 0.6,0.7, 0.83,0.8, 1,1],
    [0,0.2, 0.17,0.35, 0.33,0.6, 0.5,0.8, 0.7,0.85, 1,1],
    [0,0.28, 0.17,0.45, 0.33,0.7, 0.5,0.8, 0.67,0.9, 1,1],
    [0,0.3, 0.17,0.55, 0.33,0.75, 0.5,0.95, 0.87,0.95, 1,1],
    [0,0.28, 0.17,0.5, 0.33,0.65, 0.5,0.83, 0.7,0.9, 1,1],
    [0.09,0.25, 0.17,0.65, 0.33,0.73, 0.5,0.85, 0.67,0.9, 1,1]
  ],
  [
    [0.17,0.68, 0.67,0.95, 1,1],
    [0,0.71, 0.25,0.75, 0.42,0.88, 0.67,0.95, 1,1],
    [0.08,0.1, 0.17,0.42, 0.33,0.55, 0.5,0.72, 0.67,0.85, 1,1],
    [0,0.3, 0.17,0.47, 0.33,0.7, 0.5,0.8, 0.67,0.83, 1,1],
    [0,0.4, 0.17,0.5, 0.33,0.65, 0.5,0.85, 0.67,0.9, 1,1],
    [0,0.25, 0.17,0.55, 0.33,0.77, 0.55,0.9, 0.75,0.95, 1,1],
    [0,0.25, 0.17,0.5, 0.25,0.82, 0.5,0.9, 1,1],
    [0,0.6, 0.17,0.63, 0.33,0.75, 0.5,0.85, 0.8,0.95, 1,1],
    [0,0.55, 0.17,0.6, 0.4,0.65, 0.5,0.68, 1,0.68, 1,1],
    [0,0.15, 0.17,0.55, 0.33,0.7, 0.5,0.85, 0.67,0.97, 1,1]
  ],
  [
    [0,0.68, 0.17,0.74, 0.33,0.95, 0.5,1, 1,1],
    [0,0.6, 0.12,0.76, 0.33,0.9, 0.6,1, 1,1],
    [0,0.38, 0.17,0.5, 0.33,0.65, 0.5,0.8, 0.75,0.88, 1,1],
    [0,0.41, 0.17,0.55, 0.33,0.7, 0.5,0.8, 0.75,0.95, 1,1],
    [0,0.3, 0.17,0.45, 0.33,0.6, 0.5,0.78, 0.75,0.88, 1,1],
    [0,0.55, 0.17,0.62, 0.33,0.9, 0.6,0.95, 1,1],
    [0,0.4, 0.17,0.6, 0.33,0.75, 0.5,0.85, 0.8,0.95, 1,1],
    [0,0.25, 0.17,0.6, 0.33,0.78, 0.5,0.85, 0.75,0.95, 1,1],
    [0,0.22, 0.17,0.4, 0.33,0.55, 0.5,0.7, 0.83,0.88, 1,1],
    [0,0.36, 0.12,0.5, 0.25,0.78, 0.5,0.88, 0.83,0.95, 1,1]
  ]
];
const TICK_VALUES = [0, 0.2, 0.4, 0.6, 0.8, 1.0];

// ---- layout / style ----
const FONT = '"Liberation Sans", Arial, Helvetica, sans-serif';
const TAB10 = ['31,119,180', '255,127,14', '44,160,44', '214,39,40', '148,103,189',
               '140,86,75', '227,119,194', '127,127,127', '188,189,34', '23,190,207'];
const COL_LEFT = [39, 574, 1103, 1638];   // left edge of each axes frame
const ROW_STEP = 521.6;
const CANVAS_W = 514, CANVAS_H = 521;

function pairs(flat) {
  const out = [];
  for (let k = 0; k < flat.length; k += 2) out.push({ x: flat[k], y: flat[k + 1] });
  return out;
}

function foldPoints(flat, shape) {
  const pts = [{ x: 0, y: 0 }];
  let px = 0;
  for (let k = 0; k < flat.length; k += 2) {
    const x = flat[k], y = flat[k + 1];
    if (shape === 's') pts.push({ x: px, y: y });
    pts.push({ x: x, y: y });
    px = x;
  }
  return pts;
}

const rocDecor = {
  id: 'rocDecor',
  afterDatasetsDraw(chart) {
    const { ctx, chartArea: a } = chart;
    ctx.save();
    ctx.strokeStyle = '#a8a8a8';
    ctx.lineWidth = 1.2;
    ctx.strokeRect(a.left, a.top, a.right - a.left, a.bottom - a.top);
    ctx.restore();
  },
  afterDraw(chart, args, opts) {
    const p = opts.panel;
    const { ctx, chartArea: a } = chart;
    ctx.save();
    // title
    ctx.fillStyle = '#111';
    ctx.font = '17px ' + FONT;
    ctx.textAlign = 'center';
    ctx.textBaseline = 'alphabetic';
    ctx.fillText(TITLES[p], (a.left + a.right) / 2, a.top - 4.7);

    // legend
    const labels = FOLD_AUC[p].map((v, k) => `Fold ${k + 1} (AUC = ${v.toFixed(2)}), N=${N_PATIENTS[p]} patients`);
    labels.push(`Mean ROC (AUC = ${MEAN_AUC[p].toFixed(2)} \u00b1 ${MEAN_SD[p].toFixed(2)}), N=${N_FOLDS[p]} folds`);
    labels.push('Chance', '\u00b1 1 std. dev.');
    ctx.font = '14px ' + FONT;
    const maxW = Math.max(...labels.map(s => ctx.measureText(s).width));
    const w = 5.6 + 28 + 11.2 + maxW + 5.6;
    const h = 270.5;
    const x0 = a.right - 7.5 - w, y0 = a.bottom - 6.5 - h;
    const r = 2.8;
    ctx.beginPath();
    ctx.moveTo(x0 + r, y0);
    ctx.arcTo(x0 + w, y0, x0 + w, y0 + h, r);
    ctx.arcTo(x0 + w, y0 + h, x0, y0 + h, r);
    ctx.arcTo(x0, y0 + h, x0, y0, r);
    ctx.arcTo(x0, y0, x0 + w, y0, r);
    ctx.closePath();
    ctx.fillStyle = 'rgba(255,255,255,0.8)';
    ctx.fill();
    ctx.strokeStyle = 'rgba(204,204,204,0.8)';
    ctx.lineWidth = 1;
    ctx.stroke();

    const hx = x0 + 5.6, tx = hx + 28 + 11.2;
    labels.forEach((s, k) => {
      const cy = y0 + 11.5 + k * 20.5;
      ctx.setLineDash([]);
      if (k < 10) {
        ctx.strokeStyle = `rgba(${TAB10[k]},0.35)`;
        ctx.lineWidth = 1;
        ctx.beginPath(); ctx.moveTo(hx, cy); ctx.lineTo(hx + 28, cy); ctx.stroke();
      } else if (k === 10) {
        ctx.strokeStyle = 'rgba(0,0,255,0.8)';
        ctx.lineWidth = 2.5;
        ctx.beginPath(); ctx.moveTo(hx, cy); ctx.lineTo(hx + 28, cy); ctx.stroke();
      } else if (k === 11) {
        ctx.strokeStyle = 'rgba(255,0,0,0.8)';
        ctx.lineWidth = 2;
        ctx.setLineDash([5.5, 2.5]);
        ctx.beginPath(); ctx.moveTo(hx, cy); ctx.lineTo(hx + 28, cy); ctx.stroke();
        ctx.setLineDash([]);
      } else {
        ctx.fillStyle = 'rgba(128,128,128,0.2)';
        ctx.fillRect(hx, cy - 4.9, 28, 9.8);
      }
      ctx.fillStyle = '#1a1a1a';
      ctx.textAlign = 'left';
      ctx.textBaseline = 'middle';
      ctx.fillText(s, tx, cy + 0.5);
    });
    ctx.restore();
  }
};

function makeChart(p) {
  const c = p % 4, r = Math.floor(p / 4);
  const cv = document.createElement('canvas');
  cv.width = CANVAS_W;
  cv.height = CANVAS_H;
  cv.style.left = (COL_LEFT[c] - 39) + 'px';
  cv.style.top = Math.round(r * ROW_STEP) + 'px';
  document.body.appendChild(cv);

  const band = STD_BAND[p];
  const up = [], lo = [];
  for (let k = 0; k < band.length; k += 3) {
    up.push({ x: band[k], y: band[k + 1] });
    lo.push({ x: band[k], y: band[k + 2] });
  }

  const datasets = [
    { data: [{ x: 0, y: 0 }, { x: 1, y: 1 }], borderColor: 'rgba(255,0,0,0.8)', borderWidth: 2,
      borderDash: [5.5, 2.5], pointRadius: 0, fill: false },
    { data: pairs(MEAN_ROC[p]), borderColor: 'rgba(0,0,255,0.8)', borderWidth: 2.5,
      pointRadius: 0, fill: false },
    { data: up, borderColor: 'rgba(0,0,0,0)', borderWidth: 1, pointRadius: 0,
      backgroundColor: 'rgba(128,128,128,0.2)', fill: '+1' },
    { data: lo, borderColor: 'rgba(0,0,0,0)', borderWidth: 1, pointRadius: 0, fill: false }
  ];
  FOLD_CURVES[p].forEach((f, k) => {
    datasets.push({
      data: foldPoints(f, FOLD_SHAPE[p][k]),
      borderColor: `rgba(${TAB10[k]},0.35)`, borderWidth: 1, pointRadius: 0, fill: false
    });
  });

  const axisCommon = {
    type: 'linear', min: -0.05, max: 1.05,
    afterBuildTicks: s => { s.ticks = TICK_VALUES.map(v => ({ value: v })); },
    grid: { display: false, drawTicks: false },
    border: { display: false }
  };

  new Chart(cv, {
    type: 'line',
    data: { datasets },
    options: {
      responsive: false,
      animation: false,
      events: [],
      layout: { padding: { left: 0, right: 2, top: 18, bottom: 8 } },
      elements: { line: { tension: 0 } },
      scales: {
        x: Object.assign({}, axisCommon, {
          afterFit: s => { s.height = 34; },
          ticks: { padding: 1, font: { family: FONT, size: 15 }, color: '#222',
                   maxRotation: 0, autoSkip: false, callback: v => v.toFixed(1) },
          title: { display: true, text: 'False Positive Rate', font: { family: FONT, size: 14 },
                   color: '#222', padding: 0 }
        }),
        y: Object.assign({}, axisCommon, {
          afterFit: s => { s.width = 39; },
          ticks: { padding: 3, font: { family: FONT, size: 15 }, color: '#222',
                   autoSkip: false, callback: v => v.toFixed(1) },
          title: { display: true, text: 'True Positive Rate', font: { family: FONT, size: 14 },
                   color: '#222', padding: 0 }
        })
      },
      plugins: {
        legend: { display: false },
        tooltip: { enabled: false },
        title: { display: false },
        rocDecor: { panel: p }
      }
    },
    plugins: [rocDecor]
  });
}

for (let p = 0; p < 20; p++) makeChart(p);
</script>
</body>
</html>
